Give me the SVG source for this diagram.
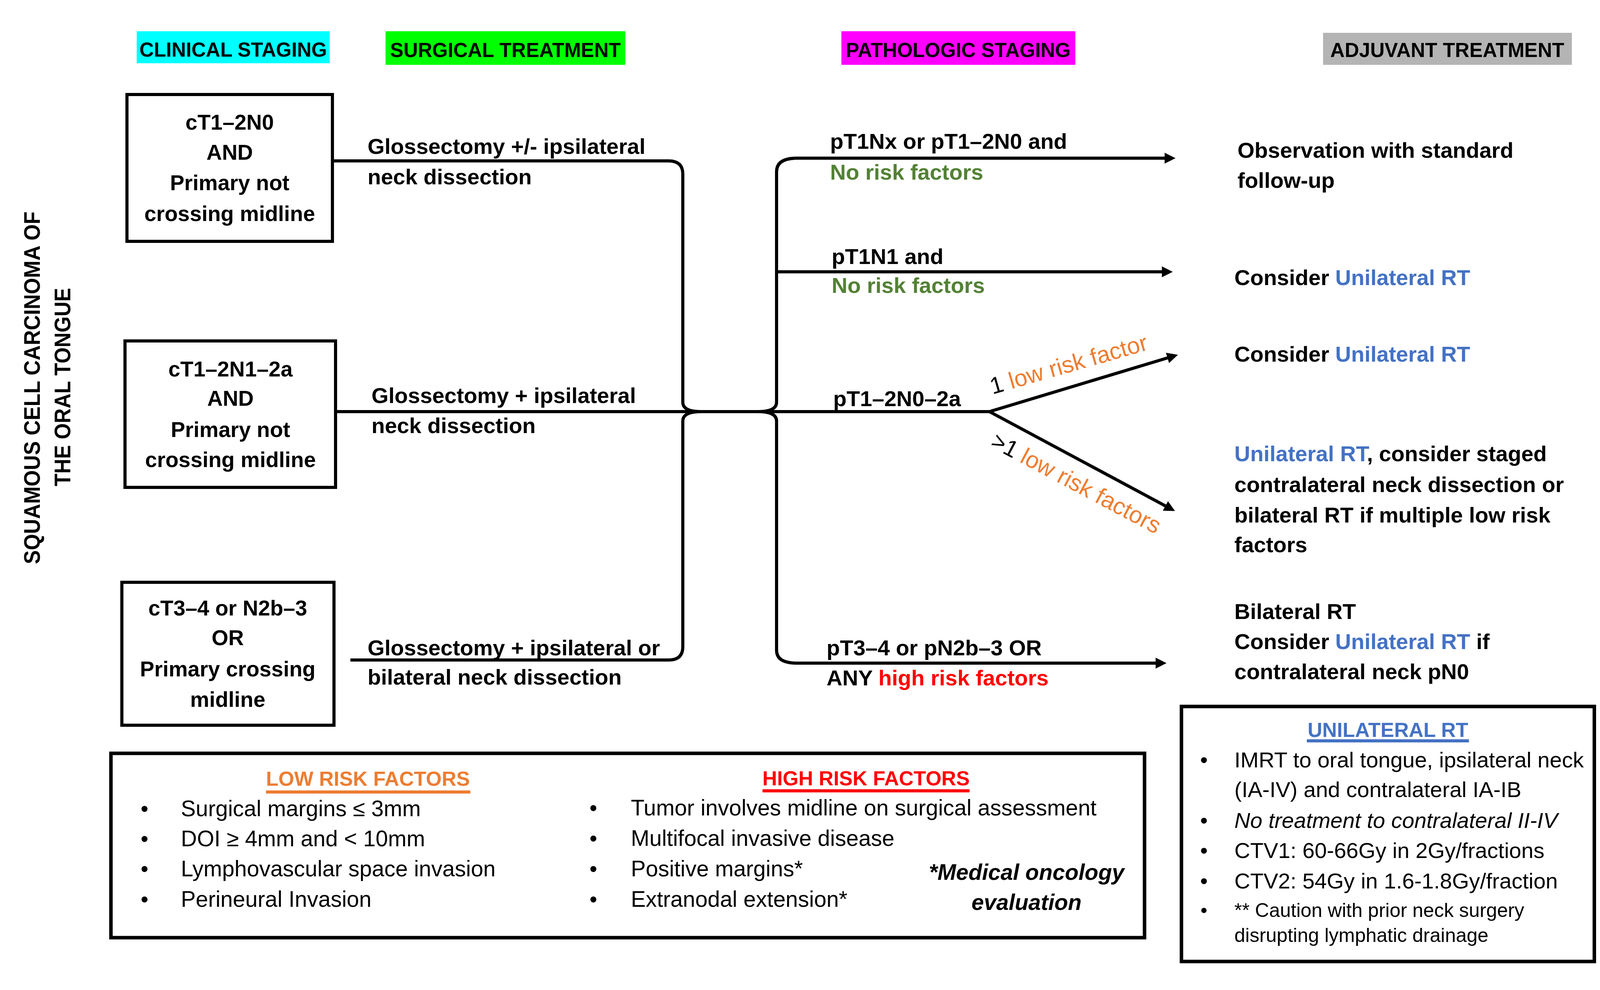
<svg xmlns="http://www.w3.org/2000/svg" width="4345" height="2535" viewBox="0 0 4345 2535">
<style>
text { font-family: 'Liberation Sans', Arial, sans-serif; fill: #000; }
.hdr { font-size: 51px; font-weight: bold; text-anchor: middle; }
.bx { font-size: 55px; font-weight: bold; text-anchor: middle; }
.b { font-size: 56px; font-weight: bold; }
.r { font-size: 57px; }
.u { font-size: 56px; }
.sm { font-size: 50px; }
.ttl { font-size: 52px; font-weight: bold; text-anchor: middle; }
.side { font-size: 58px; font-weight: bold; text-anchor: middle; }
.diag { font-size: 60px; }
.blue { fill: #4472C4; }
.green { fill: #538135; }
.orange { fill: #ED7D31; }
.red { fill: #FF0000; }
.node rect.frame { fill: none; stroke: #000; stroke-width: 8; }
.conn path { fill: none; stroke: #000; stroke-width: 8; }
.arr { marker-end: url(#ah); }
</style>
<defs>
<marker id="ah" markerUnits="userSpaceOnUse" markerWidth="30" markerHeight="30" viewBox="0 -14 27 28" refX="8" refY="0" orient="auto">
<path d="M0,-13 L26,0 L0,13 z" fill="#000"/>
</marker>
</defs>
<rect width="4345" height="2535" fill="#fff"/>

<g id="side-title">
<text class="side" transform="translate(102,993) rotate(-90)" textLength="903" lengthAdjust="spacingAndGlyphs">SQUAMOUS CELL CARCINOMA OF</text>
<text class="side" transform="translate(180,991) rotate(-90)" textLength="508" lengthAdjust="spacingAndGlyphs">THE ORAL TONGUE</text>
</g>

<g id="headers">
<rect x="350" y="80" width="494" height="82" fill="#00FFFF"/>
<text class="hdr" x="597" y="145">CLINICAL STAGING</text>
<rect x="987" y="80" width="614" height="86" fill="#00FF00"/>
<text class="hdr" x="1294" y="146">SURGICAL TREATMENT</text>
<rect x="2154" y="80" width="599" height="86" fill="#FF00FF"/>
<text class="hdr" x="2453" y="146">PATHOLOGIC STAGING</text>
<rect x="3387" y="84" width="637" height="82" fill="#B4B4B4"/>
<text class="hdr" x="3705" y="146">ADJUVANT TREATMENT</text>
</g>

<g class="conn" id="connectors">
<path d="M855 412 H1712 Q1748 412 1748 446 V1030 Q1748 1054 1795 1054"/>
<path d="M859 1054 H2533"/>
<path d="M897 1690 H1712 Q1748 1690 1748 1656 V1078 Q1748 1054 1795 1054"/>
<path class="arr" d="M1940 1054 Q1988 1054 1988 1030 V440 Q1988 405 2040 405 H2990"/>
<path class="arr" d="M1988 696 H2983"/>
<path class="arr" d="M1940 1054 Q1988 1054 1988 1078 V1665 Q1988 1698 2040 1698 H2967"/>
<path class="arr" d="M2533 1054 L2997 914"/>
<path class="arr" d="M2533 1054 L2991 1299.5"/>
</g>

<g class="node" id="clin1">
<rect class="frame" x="325" y="242" width="526" height="376"/>
<text class="bx" x="588" y="332">cT1–2N0</text>
<text class="bx" x="588" y="409">AND</text>
<text class="bx" x="588" y="487">Primary not</text>
<text class="bx" x="588" y="566">crossing midline</text>
</g>
<g class="node" id="clin2">
<rect class="frame" x="320" y="873" width="539" height="375"/>
<text class="bx" x="590" y="964">cT1–2N1–2a</text>
<text class="bx" x="590" y="1039">AND</text>
<text class="bx" x="590" y="1119">Primary not</text>
<text class="bx" x="590" y="1196">crossing midline</text>
</g>
<g class="node" id="clin3">
<rect class="frame" x="312" y="1491" width="543" height="366"/>
<text class="bx" x="583" y="1576">cT3–4 or N2b–3</text>
<text class="bx" x="583" y="1652">OR</text>
<text class="bx" x="583" y="1732">Primary crossing</text>
<text class="bx" x="583" y="1810">midline</text>
</g>

<g id="surgery-labels">
<text class="b" x="941" y="394">Glossectomy +/- ipsilateral</text>
<text class="b" x="941" y="472">neck dissection</text>
<text class="b" x="951" y="1032">Glossectomy + ipsilateral</text>
<text class="b" x="951" y="1109">neck dissection</text>
<text class="b" x="941" y="1678">Glossectomy + ipsilateral or</text>
<text class="b" x="941" y="1753">bilateral neck dissection</text>
</g>

<g id="path-labels">
<text class="b" x="2125" y="381">pT1Nx or pT1–2N0 and</text>
<text class="b green" x="2125" y="460">No risk factors</text>
<text class="b" x="2129" y="676">pT1N1 and</text>
<text class="b green" x="2129" y="750">No risk factors</text>
<text class="b" x="2133" y="1040">pT1–2N0–2a</text>
<text class="diag" transform="translate(2541,1010) rotate(-16)">1 <tspan class="orange">low risk factor</tspan></text>
<text class="diag" transform="translate(2533,1142) rotate(28)">&gt;1 <tspan class="orange">low risk factors</tspan></text>
<text class="b" x="2116" y="1678">pT3–4 or pN2b–3 OR</text>
<text class="b" x="2116" y="1755">ANY <tspan class="red">high risk factors</tspan></text>
</g>

<g id="adjuvant">
<text class="b" x="3168" y="404">Observation with standard</text>
<text class="b" x="3168" y="481">follow-up</text>
<text class="b" x="3160" y="730">Consider <tspan class="blue">Unilateral RT</tspan></text>
<text class="b" x="3160" y="926">Consider <tspan class="blue">Unilateral RT</tspan></text>
<text class="b" x="3160" y="1181"><tspan class="blue">Unilateral RT</tspan>, consider staged</text>
<text class="b" x="3160" y="1260">contralateral neck dissection or</text>
<text class="b" x="3160" y="1338">bilateral RT if multiple low risk</text>
<text class="b" x="3160" y="1414">factors</text>
<text class="b" x="3160" y="1585">Bilateral RT</text>
<text class="b" x="3160" y="1662">Consider <tspan class="blue">Unilateral RT</tspan> if</text>
<text class="b" x="3160" y="1739">contralateral neck pN0</text>
</g>

<g class="node" id="risk-factors">
<rect class="frame" x="284" y="1929" width="2646" height="472" style="stroke-width:9"/>
<text class="ttl orange" x="942" y="2012">LOW RISK FACTORS</text>
<rect x="681" y="2024" width="523" height="8" fill="#ED7D31"/>
<text class="r" x="370" y="2090" text-anchor="middle">•</text>
<text class="r" x="463" y="2090">Surgical margins ≤ 3mm</text>
<text class="r" x="370" y="2167" text-anchor="middle">•</text>
<text class="r" x="463" y="2167">DOI ≥ 4mm and &lt; 10mm</text>
<text class="r" x="370" y="2244" text-anchor="middle">•</text>
<text class="r" x="463" y="2244">Lymphovascular space invasion</text>
<text class="r" x="370" y="2322" text-anchor="middle">•</text>
<text class="r" x="463" y="2322">Perineural Invasion</text>
<text class="ttl red" x="2217" y="2011">HIGH RISK FACTORS</text>
<rect x="1952" y="2021" width="530" height="8" fill="#FF0000"/>
<text class="r" x="1519" y="2088" text-anchor="middle">•</text>
<text class="r" x="1615" y="2088">Tumor involves midline on surgical assessment</text>
<text class="r" x="1519" y="2166" text-anchor="middle">•</text>
<text class="r" x="1615" y="2166">Multifocal invasive disease</text>
<text class="r" x="1519" y="2244" text-anchor="middle">•</text>
<text class="r" x="1615" y="2244">Positive margins*</text>
<text class="r" x="1519" y="2322" text-anchor="middle">•</text>
<text class="r" x="1615" y="2322">Extranodal extension*</text>
<text x="2628" y="2253" text-anchor="middle" style="font-size:57px;font-weight:bold;font-style:italic">*Medical oncology</text>
<text x="2628" y="2330" text-anchor="middle" style="font-size:57px;font-weight:bold;font-style:italic">evaluation</text>
</g>

<g class="node" id="unilateral-rt">
<rect class="frame" x="3024.5" y="1809" width="1057" height="653" style="stroke-width:9"/>
<text class="ttl blue" x="3553" y="1887">UNILATERAL RT</text>
<rect x="3345.5" y="1893" width="415" height="8" fill="#4472C4"/>
<text class="u" x="3082" y="1965" text-anchor="middle">•</text>
<text class="u" x="3160" y="1965">IMRT to oral tongue, ipsilateral neck</text>
<text class="u" x="3160" y="2041">(IA-IV) and contralateral IA-IB</text>
<text class="u" x="3082" y="2120" text-anchor="middle">•</text>
<text class="u" x="3160" y="2120" font-style="italic">No treatment to contralateral II-IV</text>
<text class="u" x="3082" y="2197" text-anchor="middle">•</text>
<text class="u" x="3160" y="2197">CTV1: 60-66Gy in 2Gy/fractions</text>
<text class="u" x="3082" y="2275" text-anchor="middle">•</text>
<text class="u" x="3160" y="2275">CTV2: 54Gy in 1.6-1.8Gy/fraction</text>
<text class="sm" x="3082" y="2348" text-anchor="middle">•</text>
<text class="sm" x="3160" y="2348">** Caution with prior neck surgery</text>
<text class="sm" x="3160" y="2412">disrupting lymphatic drainage</text>
</g>
</svg>
